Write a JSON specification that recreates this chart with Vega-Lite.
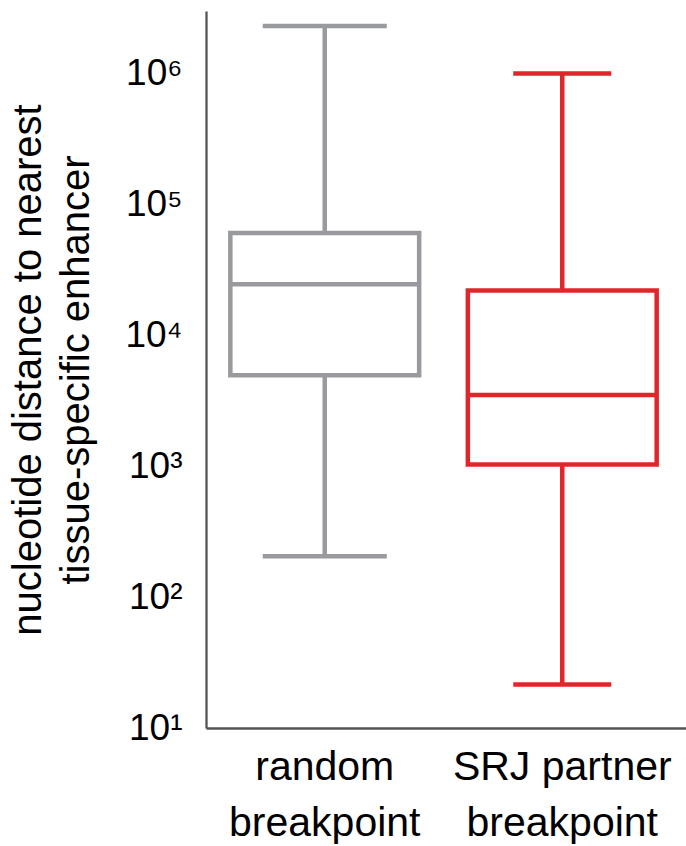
{
  "$schema": "https://vega.github.io/schema/vega-lite/v6.json",
  "width": 480,
  "height": 717,
  "autosize": "none",
  "padding": {"left": 206, "top": 11, "right": 0, "bottom": 118},
  "background": "white",
  "config": {
    "view": {"stroke": null},
    "font": "Liberation Sans"
  },
  "data": {
    "values": [
      {"group": "random|breakpoint", "min": 205, "q1": 4950, "median": 24500, "q3": 60500, "max": 2300000},
      {"group": "SRJ partner|breakpoint", "min": 21.5, "q1": 1030, "median": 3500, "q3": 22000, "max": 1000000}
    ]
  },
  "encoding": {
    "x": {
      "field": "group",
      "type": "nominal",
      "sort": null,
      "scale": {"paddingInner": 0, "paddingOuter": 0.0105, "align": 0},
      "axis": {
        "title": null,
        "labelExpr": "split(datum.label, '|')",
        "labelAngle": 0,
        "labelFontSize": 41,
        "labelLineHeight": 56,
        "labelLimit": 0,
        "labelColor": "#000000",
        "labelPadding": 19,
        "ticks": false,
        "domainColor": "#555555",
        "domainWidth": 2.3,
        "grid": false
      }
    },
    "color": {
      "field": "group",
      "type": "nominal",
      "scale": {"domain": ["random|breakpoint", "SRJ partner|breakpoint"], "range": ["#999a9e", "#e1262b"]},
      "legend": null
    }
  },
  "layer": [
    {
      "mark": {"type": "rule", "strokeWidth": 4.5},
      "encoding": {
        "y": {
          "field": "min",
          "type": "quantitative",
          "scale": {"type": "log", "domain": [10, 3000000], "nice": false},
          "axis": {
            "title": ["nucleotide distance to nearest", "tissue-specific enhancer"],
            "titleFontSize": 40,
            "titleFontWeight": "normal",
            "titleLineHeight": 48,
            "titleColor": "#000000",
            "titlePadding": 28,
            "values": [10, 100, 1000, 10000, 100000, 1000000],
            "labelExpr": "'10' + ['\u00b9','\u00b2','\u00b3','\u2074','\u2075','\u2076'][round(log(datum.value)/LN10) - 1]",
            "labelFontSize": 37,
            "labelColor": "#000000",
            "labelPadding": 24,
            "ticks": false,
            "grid": false,
            "domainColor": "#555555",
            "domainWidth": 2.3
          }
        },
        "y2": {"field": "q1"}
      }
    },
    {
      "mark": {"type": "rule", "strokeWidth": 4.5},
      "encoding": {
        "y": {"field": "q3", "type": "quantitative"},
        "y2": {"field": "max"}
      }
    },
    {
      "mark": {"type": "bar", "fill": "white", "strokeWidth": 4.5, "width": {"band": 0.795}},
      "encoding": {
        "y": {"field": "q1", "type": "quantitative"},
        "y2": {"field": "q3"},
        "stroke": {
          "field": "group",
          "type": "nominal",
          "scale": {"domain": ["random|breakpoint", "SRJ partner|breakpoint"], "range": ["#999a9e", "#e1262b"]},
          "legend": null
        }
      }
    },
    {
      "mark": {"type": "tick", "thickness": 4.5, "size": 189, "opacity": 1},
      "encoding": {
        "y": {"field": "median", "type": "quantitative"}
      }
    },
    {
      "mark": {"type": "tick", "thickness": 4.5, "opacity": 1},
      "encoding": {
        "y": {"field": "min", "type": "quantitative"},
        "size": {
          "field": "group",
          "type": "nominal",
          "scale": {"domain": ["random|breakpoint", "SRJ partner|breakpoint"], "range": [124, 98]},
          "legend": null
        }
      }
    },
    {
      "mark": {"type": "tick", "thickness": 4.5, "opacity": 1},
      "encoding": {
        "y": {"field": "max", "type": "quantitative"},
        "size": {
          "field": "group",
          "type": "nominal",
          "scale": {"domain": ["random|breakpoint", "SRJ partner|breakpoint"], "range": [124, 98]},
          "legend": null
        }
      }
    }
  ]
}
